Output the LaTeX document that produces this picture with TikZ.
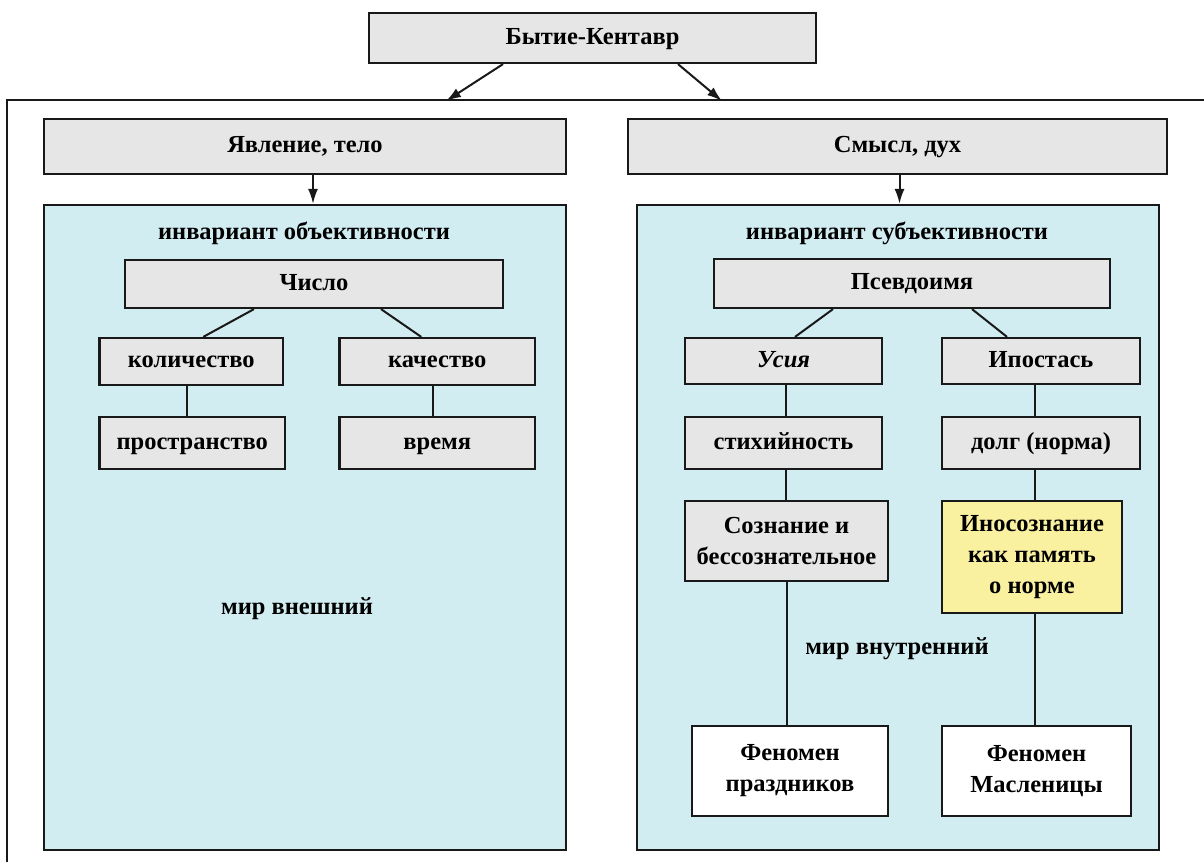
\documentclass[tikz,border=0pt]{standalone}
\usepackage{fontspec}
\setmainfont{Liberation Serif}
\usetikzlibrary{arrows.meta,calc}
\definecolor{boxgray}{RGB}{230,230,230}
\definecolor{panelblue}{RGB}{210,237,242}
\definecolor{boxyellow}{RGB}{250,241,160}
\definecolor{linecol}{RGB}{25,25,25}
\begin{document}
\begin{tikzpicture}[x=1pt,y=-1pt,
  txt/.style={font=\fontsize{24.5}{31}\selectfont\bfseries, text=black},
  graybox/.style={txt, draw=linecol, line width=2.2pt, fill=boxgray, inner sep=0pt, align=center},
  one/.style={text height=17pt, text depth=5pt},
  whitebox/.style={graybox, fill=white},
  yellowbox/.style={graybox, fill=boxyellow},
  panel/.style={draw=linecol, line width=2.2pt, fill=panelblue, inner sep=0pt},
  conn/.style={draw=linecol, line width=2pt},
  arr/.style={conn, -{Latex[length=15pt,width=10pt]}},
  label/.style={txt, inner sep=0pt, one}]
\useasboundingbox (0,0) rectangle (1204,862);
\fill[white] (0,0) rectangle (1204,862);
% outer frame
\coordinate (fTL) at (7,100);
\coordinate (fTR) at (1204,100);
\coordinate (fBL) at (7,862);
\draw[conn] (fTR) -- (fTL) -- (fBL);
% top
\node[graybox, one, minimum width=447pt, minimum height=50pt] (top) at (592.5,38) {Бытие-Кентавр};
\coordinate (a1) at (446,101);
\coordinate (a2) at (722,101);
\draw[arr] ([xshift=-89.5pt]top.south) -- (a1);
\draw[arr] ([xshift=85.5pt]top.south) -- (a2);
\node[graybox, one, minimum width=522pt, minimum height=55pt] (yav) at (305,146.5) {Явление, тело};
\node[graybox, one, minimum width=539pt, minimum height=55pt] (smysl) at (897.5,146.5) {Смысл, дух};
% panels
\node[panel, minimum width=522pt, minimum height=645pt] (lp) at (305,527.5) {};
\node[panel, minimum width=522pt, minimum height=645pt] (rp) at (898,527.5) {};
\draw[arr] ([xshift=8pt]yav.south) -- ([xshift=8pt]yav.south |- lp.north);
\draw[arr] ([xshift=2pt]smysl.south) -- ([xshift=2pt]smysl.south |- rp.north);
% left panel
\node[label] (inv1) at (304,233) {инвариант объективности};
\node[graybox, one, minimum width=378pt, minimum height=48pt] (chislo) at (314,284) {Число};
\node[graybox, one, minimum width=183.5pt, minimum height=47pt] (kolich) at (191.25,361.5) {количество};
\node[graybox, one, minimum width=195.5pt, minimum height=47pt] (kach) at (437.25,361.5) {качество};
\node[graybox, one, minimum width=185.5pt, minimum height=52pt] (prostr) at (192.25,443) {пространство};
\node[graybox, one, minimum width=195.5pt, minimum height=52pt] (vremya) at (437.25,443) {время};
\node[label] (mirv) at (297,608) {мир внешний};
\draw[conn] ([xshift=-60pt]chislo.south) -- ([xshift=12pt]kolich.north);
\draw[conn] ([xshift=67pt]chislo.south) -- ([xshift=-16pt]kach.north);
\draw[conn] ([xshift=-4pt]kolich.south) -- ([xshift=-4pt]kolich.south |- prostr.north);
\draw[conn] ([xshift=-4pt]kach.south) -- ([xshift=-4pt]kach.south |- vremya.north);
% right panel
\node[label] (inv2) at (897,233) {инвариант субъективности};
\node[graybox, one, minimum width=396pt, minimum height=49pt] (pseudo) at (912,283.5) {Псевдоимя};
\node[graybox, one, minimum width=197pt, minimum height=46pt] (usia) at (783.5,361) {\itshape Усия};
\node[graybox, one, minimum width=198pt, minimum height=46pt] (ipost) at (1041,361) {Ипостась};
\node[graybox, one, minimum width=197pt, minimum height=52pt] (stikh) at (783.5,443) {стихийность};
\node[graybox, one, minimum width=198pt, minimum height=52pt] (dolg) at (1041,443) {долг (норма)};
\node[graybox, minimum width=203pt, minimum height=80pt] (soznan) at (786.5,541) {Сознание и\\бессознательное};
\node[yellowbox, minimum width=180pt, minimum height=112pt] (inosozn) at (1032,557) {Иносознание\\как память\\о норме};
\node[whitebox, minimum width=196pt, minimum height=90pt] (fprazd) at (790,771) {Феномен\\праздников};
\node[whitebox, minimum width=189pt, minimum height=90pt] (fmasl) at (1036.5,771) {Феномен\\Масленицы};
\node[label] (mirvn) at (897,648) {мир внутренний};
\draw[conn] ([xshift=-79pt]pseudo.south) -- ([xshift=11.5pt]usia.north);
\draw[conn] ([xshift=60pt]pseudo.south) -- ([xshift=-34pt]ipost.north);
\draw[conn] ([xshift=2.5pt]usia.south) -- ([xshift=2.5pt]usia.south |- stikh.north);
\draw[conn] ([xshift=2.5pt]stikh.south) -- ([xshift=2.5pt]stikh.south |- soznan.north);
\draw[conn] (soznan.south) -- (soznan.south |- fprazd.north);
\draw[conn] ([xshift=-6.5pt]ipost.south) -- ([xshift=-6.5pt]ipost.south |- dolg.north);
\draw[conn] ([xshift=2.5pt]inosozn.north |- dolg.south) -- ([xshift=2.5pt]inosozn.north);
\draw[conn] ([xshift=2.5pt]inosozn.south) -- ([xshift=2.5pt]inosozn.south |- fmasl.north);
\end{tikzpicture}
\end{document}
